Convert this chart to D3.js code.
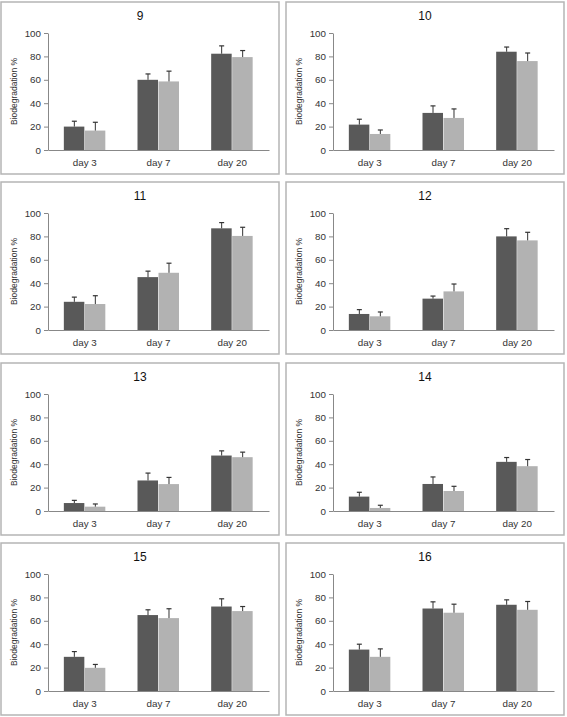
<!DOCTYPE html>
<html>
<head>
<meta charset="utf-8">
<script src="https://cdn.jsdelivr.net/npm/d3@7"></script>
<style>
  html, body { margin: 0; padding: 0; background: #fff; }
  svg { display: block; }
</style>
</head>
<body>
<svg id="chart" width="567" height="717"></svg>
<script>
// ---- data ----
const panelTitles = ["9", "10", "11", "12", "13", "14", "15", "16"];
const categories = ["day 3", "day 7", "day 20"];
const yTicks = [0, 20, 40, 60, 80, 100];
const yLabel = "Biodegradation %";

// dark series values and upward error, per panel
const darkValues = [
  [20.0, 60.0, 82.3],
  [21.7, 31.7, 84.0],
  [24.1, 45.2, 86.9],
  [13.7, 26.8, 80.0],
  [6.8, 26.1, 47.4],
  [12.3, 23.1, 42.0],
  [29.2, 64.9, 72.2],
  [35.4, 70.5, 73.7]
];
const darkErrors = [
  [4.6, 5.0, 6.7],
  [4.6, 6.0, 4.0],
  [4.0, 5.1, 4.9],
  [3.7, 2.2, 6.6],
  [2.3, 6.3, 4.0],
  [3.7, 6.0, 3.7],
  [4.5, 4.5, 6.6],
  [4.6, 5.7, 4.2]
];
// light series values and upward error, per panel
const lightValues = [
  [16.6, 58.6, 79.4],
  [13.7, 27.4, 76.0],
  [22.2, 48.9, 80.4],
  [11.7, 33.0, 76.6],
  [3.7, 23.0, 46.0],
  [2.6, 17.1, 38.3],
  [19.8, 62.3, 68.3],
  [29.2, 66.9, 69.4]
];
const lightErrors = [
  [7.1, 8.8, 5.6],
  [3.4, 7.7, 6.9],
  [7.1, 8.2, 7.4],
  [3.7, 6.3, 6.9],
  [2.3, 5.7, 4.3],
  [2.3, 4.0, 5.7],
  [2.9, 8.0, 3.9],
  [6.8, 7.3, 7.1]
];

// ---- layout ----
const colX = [1, 286];
const rowY = [2, 182, 363, 543];
const boxW = 278, boxH = 172;
const plotLeft = 47, plotRight = 268, plotTop = 31, plotBottom = 148;
const colors = { dark: "#595959", light: "#b2b2b2" };
const font = "'Liberation Sans', Arial, sans-serif";

const svg = d3.select("#chart");

panelTitles.forEach((title, i) => {
  const bx = colX[i % 2], by = rowY[Math.floor(i / 2)];
  const g = svg.append("g").attr("transform", `translate(${bx},${by})`);

  g.append("rect")
    .attr("x", 0).attr("y", 0).attr("width", boxW).attr("height", boxH)
    .attr("fill", "#fff").attr("stroke", "#b5b5b5").attr("stroke-width", 1.5);

  g.append("text")
    .attr("x", boxW / 2).attr("y", 18)
    .attr("text-anchor", "middle")
    .attr("font-family", font).attr("font-size", 12).attr("fill", "#111")
    .text(title);

  const x = d3.scaleBand().domain(categories)
    .range([plotLeft, plotRight]).paddingInner(0.43).paddingOuter(0.215);
  const xs = d3.scaleBand().domain(["dark", "light"]).range([0, x.bandwidth()]);
  const y = d3.scaleLinear().domain([0, 100]).range([plotBottom, plotTop]);

  // y axis
  const yAxis = g.append("g").attr("transform", `translate(${plotLeft},0)`)
    .call(d3.axisLeft(y).tickValues(yTicks).tickSize(4).tickPadding(3).tickSizeOuter(0));
  yAxis.select(".domain").attr("stroke", "#888");
  yAxis.selectAll(".tick line").attr("stroke", "#888");
  yAxis.selectAll("text").attr("font-family", font).attr("font-size", 9.8).attr("fill", "#333");

  // x axis
  const xAxis = g.append("g").attr("transform", `translate(0,${plotBottom})`)
    .call(d3.axisBottom(x).tickSize(0).tickPadding(9).tickSizeOuter(0));
  xAxis.select(".domain").attr("stroke", "#888");
  xAxis.selectAll("text").attr("font-family", font).attr("font-size", 9.8).attr("fill", "#333");

  // y label
  g.append("text")
    .attr("transform", `translate(16,${(plotTop + plotBottom) / 2}) rotate(-90)`)
    .attr("text-anchor", "middle")
    .attr("font-family", font).attr("font-size", 8.5).attr("fill", "#333")
    .text(yLabel);

  const series = [
    { key: "dark", vals: darkValues[i], errs: darkErrors[i] },
    { key: "light", vals: lightValues[i], errs: lightErrors[i] }
  ];
  series.forEach(s => {
    const rows = categories.map((c, j) => ({ c, v: s.vals[j], e: s.errs[j] }));
    const sg = g.append("g");
    sg.selectAll("rect").data(rows).enter().append("rect")
      .attr("x", d => x(d.c) + xs(s.key))
      .attr("y", d => y(d.v))
      .attr("width", xs.bandwidth() - 0.5)
      .attr("height", d => y(0) - y(d.v))
      .attr("fill", colors[s.key]);
    const eg = sg.selectAll("g.err").data(rows).enter().append("g").attr("class", "err");
    eg.append("line")
      .attr("x1", d => x(d.c) + xs(s.key) + xs.bandwidth() / 2)
      .attr("x2", d => x(d.c) + xs(s.key) + xs.bandwidth() / 2)
      .attr("y1", d => y(d.v))
      .attr("y2", d => y(d.v + d.e))
      .attr("stroke", "#333").attr("stroke-width", 1);
    eg.append("line")
      .attr("x1", d => x(d.c) + xs(s.key) + xs.bandwidth() / 2 - 2.5)
      .attr("x2", d => x(d.c) + xs(s.key) + xs.bandwidth() / 2 + 2.5)
      .attr("y1", d => y(d.v + d.e))
      .attr("y2", d => y(d.v + d.e))
      .attr("stroke", "#333").attr("stroke-width", 1.2);
  });
});
</script>
</body>
</html>
